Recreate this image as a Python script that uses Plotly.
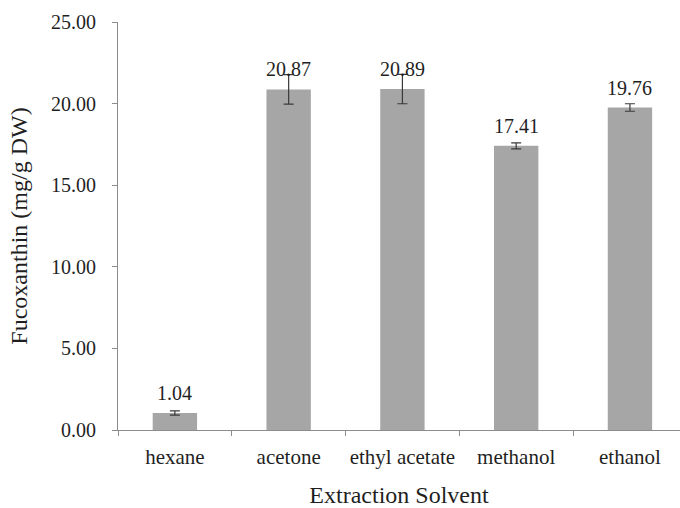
import plotly.graph_objects as go

solvents = ["hexane", "acetone", "ethyl acetate", "methanol", "ethanol"]
fucoxanthin = [1.04, 20.87, 20.89, 17.41, 19.76]
errors = [0.13, 0.9, 0.9, 0.18, 0.23]
labels = ["1.04", "20.87", "20.89", "17.41", "19.76"]
y_ticks = [0, 5, 10, 15, 20, 25]
y_tick_text = ["0.00", "5.00", "10.00", "15.00", "20.00", "25.00"]

FONT = "Liberation Serif, Times New Roman, serif"
AXIS_COLOR = "#8c8c8c"
TEXT_COLOR = "#1f1f1f"

fig = go.Figure()
fig.add_trace(go.Bar(
    x=solvents,
    y=fucoxanthin,
    width=0.39,
    marker=dict(color="#a6a6a6", line=dict(width=0)),
    error_y=dict(type="data", array=errors, visible=True,
                 color="#3a3a3a", thickness=1.2, width=5),
    showlegend=False,
))

for s, v, t in zip(solvents, fucoxanthin, labels):
    fig.add_annotation(x=s, y=v, text=t, showarrow=False,
                       yanchor="bottom", yshift=7,
                       font=dict(family=FONT, size=20, color=TEXT_COLOR))

fig.update_layout(
    width=680, height=508,
    margin=dict(l=118, r=0, t=22, b=78, autoexpand=False),
    paper_bgcolor="white", plot_bgcolor="white",
    font=dict(family=FONT, size=20, color=TEXT_COLOR),
    xaxis=dict(
        range=[-0.5, 4.44],
        showline=True, linecolor=AXIS_COLOR, linewidth=1,
        ticks="outside", tickson="boundaries", ticklen=5, tickcolor=AXIS_COLOR,
        ticklabelstandoff=8, tickangle=0, automargin=False,
        showgrid=False, zeroline=False,
        title=dict(text="Extraction Solvent", standoff=18,
                   font=dict(family=FONT, size=24, color=TEXT_COLOR)),
        tickfont=dict(family=FONT, size=21, color=TEXT_COLOR),
    ),
    yaxis=dict(
        range=[0, 25],
        tickvals=y_ticks, ticktext=y_tick_text,
        showline=True, linecolor=AXIS_COLOR, linewidth=1,
        ticks="outside", ticklen=5, tickcolor=AXIS_COLOR,
        ticklabelstandoff=12, automargin=False,
        showgrid=False, zeroline=False,
        title=dict(text="Fucoxanthin (mg/g DW)", standoff=16,
                   font=dict(family=FONT, size=24, color=TEXT_COLOR)),
        tickfont=dict(family=FONT, size=20, color=TEXT_COLOR),
    ),
)

fig.write_html("out.html")
